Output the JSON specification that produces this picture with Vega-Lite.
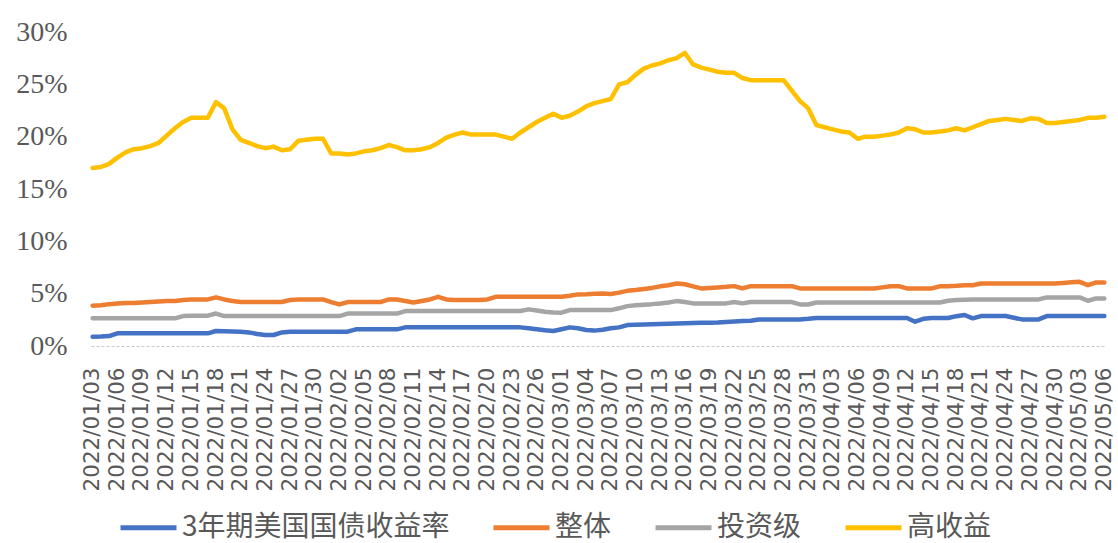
{
  "$schema": "https://vega.github.io/schema/vega-lite/v6.json",
  "width": 1015,
  "height": 314,
  "autosize": {"type": "none"},
  "padding": {"left": 91, "top": 32, "right": 12, "bottom": 197},
  "background": "white",
  "config": {"view": {"stroke": null}},
  "data": {"values": [
    {"date":"2022/01/03","3年期美国国债收益率":0.89,"整体":3.85,"投资级":2.64,"高收益":17.0},
    {"date":"2022/01/04","3年期美国国债收益率":0.90,"整体":3.90,"投资级":2.64,"高收益":17.1},
    {"date":"2022/01/05","3年期美国国债收益率":0.95,"整体":4.00,"投资级":2.64,"高收益":17.4},
    {"date":"2022/01/06","3年期美国国债收益率":1.21,"整体":4.05,"投资级":2.64,"高收益":18.0},
    {"date":"2022/01/07","3年期美国国债收益率":1.21,"整体":4.10,"投资级":2.64,"高收益":18.5},
    {"date":"2022/01/08","3年期美国国债收益率":1.21,"整体":4.10,"投资级":2.64,"高收益":18.8},
    {"date":"2022/01/09","3年期美国国债收益率":1.21,"整体":4.15,"投资级":2.64,"高收益":18.9},
    {"date":"2022/01/10","3年期美国国债收益率":1.21,"整体":4.20,"投资级":2.64,"高收益":19.1},
    {"date":"2022/01/11","3年期美国国债收益率":1.21,"整体":4.25,"投资级":2.64,"高收益":19.4},
    {"date":"2022/01/12","3年期美国国债收益率":1.21,"整体":4.30,"投资级":2.64,"高收益":20.1},
    {"date":"2022/01/13","3年期美国国债收益率":1.21,"整体":4.30,"投资级":2.64,"高收益":20.8},
    {"date":"2022/01/14","3年期美国国债收益率":1.21,"整体":4.40,"投资级":2.86,"高收益":21.4},
    {"date":"2022/01/15","3年期美国国债收益率":1.21,"整体":4.45,"投资级":2.90,"高收益":21.8},
    {"date":"2022/01/16","3年期美国国债收益率":1.21,"整体":4.45,"投资级":2.90,"高收益":21.8},
    {"date":"2022/01/17","3年期美国国债收益率":1.21,"整体":4.45,"投资级":2.90,"高收益":21.8},
    {"date":"2022/01/18","3年期美国国债收益率":1.43,"整体":4.65,"投资级":3.10,"高收益":23.3},
    {"date":"2022/01/19","3年期美国国债收益率":1.40,"整体":4.45,"投资级":2.86,"高收益":22.7},
    {"date":"2022/01/20","3年期美国国债收益率":1.38,"整体":4.30,"投资级":2.86,"高收益":20.7},
    {"date":"2022/01/21","3年期美国国债收益率":1.37,"整体":4.20,"投资级":2.86,"高收益":19.7},
    {"date":"2022/01/22","3年期美国国债收益率":1.30,"整体":4.20,"投资级":2.86,"高收益":19.4},
    {"date":"2022/01/23","3年期美国国债收益率":1.15,"整体":4.20,"投资级":2.86,"高收益":19.1},
    {"date":"2022/01/24","3年期美国国债收益率":1.05,"整体":4.20,"投资级":2.86,"高收益":18.9},
    {"date":"2022/01/25","3年期美国国债收益率":1.05,"整体":4.20,"投资级":2.86,"高收益":19.05},
    {"date":"2022/01/26","3年期美国国债收益率":1.30,"整体":4.20,"投资级":2.86,"高收益":18.7},
    {"date":"2022/01/27","3年期美国国债收益率":1.37,"整体":4.40,"投资级":2.86,"高收益":18.8},
    {"date":"2022/01/28","3年期美国国债收益率":1.37,"整体":4.45,"投资级":2.86,"高收益":19.6},
    {"date":"2022/01/29","3年期美国国债收益率":1.37,"整体":4.45,"投资级":2.86,"高收益":19.7},
    {"date":"2022/01/30","3年期美国国债收益率":1.37,"整体":4.45,"投资级":2.86,"高收益":19.8},
    {"date":"2022/01/31","3年期美国国债收益率":1.37,"整体":4.45,"投资级":2.86,"高收益":19.8},
    {"date":"2022/02/01","3年期美国国债收益率":1.37,"整体":4.20,"投资级":2.86,"高收益":18.4},
    {"date":"2022/02/02","3年期美国国债收益率":1.37,"整体":3.97,"投资级":2.86,"高收益":18.4},
    {"date":"2022/02/03","3年期美国国债收益率":1.37,"整体":4.20,"投资级":3.10,"高收益":18.3},
    {"date":"2022/02/04","3年期美国国债收益率":1.59,"整体":4.20,"投资级":3.10,"高收益":18.4},
    {"date":"2022/02/05","3年期美国国债收益率":1.59,"整体":4.20,"投资级":3.10,"高收益":18.6},
    {"date":"2022/02/06","3年期美国国债收益率":1.59,"整体":4.20,"投资级":3.10,"高收益":18.7},
    {"date":"2022/02/07","3年期美国国债收益率":1.59,"整体":4.20,"投资级":3.10,"高收益":18.9},
    {"date":"2022/02/08","3年期美国国债收益率":1.59,"整体":4.45,"投资级":3.10,"高收益":19.2},
    {"date":"2022/02/09","3年期美国国债收益率":1.59,"整体":4.45,"投资级":3.10,"高收益":19.0},
    {"date":"2022/02/10","3年期美国国债收益率":1.78,"整体":4.30,"投资级":3.34,"高收益":18.7},
    {"date":"2022/02/11","3年期美国国债收益率":1.78,"整体":4.16,"投资级":3.34,"高收益":18.7},
    {"date":"2022/02/12","3年期美国国债收益率":1.78,"整体":4.30,"投资级":3.34,"高收益":18.8},
    {"date":"2022/02/13","3年期美国国债收益率":1.78,"整体":4.45,"投资级":3.34,"高收益":19.0},
    {"date":"2022/02/14","3年期美国国债收益率":1.78,"整体":4.70,"投资级":3.34,"高收益":19.4},
    {"date":"2022/02/15","3年期美国国债收益率":1.78,"整体":4.45,"投资级":3.34,"高收益":19.9},
    {"date":"2022/02/16","3年期美国国债收益率":1.78,"整体":4.40,"投资级":3.34,"高收益":20.2},
    {"date":"2022/02/17","3年期美国国债收益率":1.78,"整体":4.40,"投资级":3.34,"高收益":20.4},
    {"date":"2022/02/18","3年期美国国债收益率":1.78,"整体":4.40,"投资级":3.34,"高收益":20.2},
    {"date":"2022/02/19","3年期美国国债收益率":1.78,"整体":4.40,"投资级":3.34,"高收益":20.2},
    {"date":"2022/02/20","3年期美国国债收益率":1.78,"整体":4.45,"投资级":3.34,"高收益":20.2},
    {"date":"2022/02/21","3年期美国国债收益率":1.78,"整体":4.70,"投资级":3.34,"高收益":20.2},
    {"date":"2022/02/22","3年期美国国债收益率":1.78,"整体":4.70,"投资级":3.34,"高收益":20.0},
    {"date":"2022/02/23","3年期美国国债收益率":1.78,"整体":4.70,"投资级":3.34,"高收益":19.8},
    {"date":"2022/02/24","3年期美国国债收益率":1.78,"整体":4.70,"投资级":3.34,"高收益":20.4},
    {"date":"2022/02/25","3年期美国国债收益率":1.70,"整体":4.70,"投资级":3.50,"高收益":20.9},
    {"date":"2022/02/26","3年期美国国债收益率":1.60,"整体":4.70,"投资级":3.40,"高收益":21.4},
    {"date":"2022/02/27","3年期美国国债收益率":1.50,"整体":4.70,"投资级":3.27,"高收益":21.8},
    {"date":"2022/02/28","3年期美国国债收益率":1.43,"整体":4.70,"投资级":3.20,"高收益":22.2},
    {"date":"2022/03/01","3年期美国国债收益率":1.60,"整体":4.70,"投资级":3.18,"高收益":21.8},
    {"date":"2022/03/02","3年期美国国债收益率":1.78,"整体":4.80,"投资级":3.43,"高收益":22.0},
    {"date":"2022/03/03","3年期美国国债收益率":1.70,"整体":4.93,"投资级":3.43,"高收益":22.4},
    {"date":"2022/03/04","3年期美国国债收益率":1.53,"整体":4.95,"投资级":3.43,"高收益":22.9},
    {"date":"2022/03/05","3年期美国国债收益率":1.47,"整体":5.00,"投资级":3.43,"高收益":23.2},
    {"date":"2022/03/06","3年期美国国债收益率":1.55,"整体":5.02,"投资级":3.43,"高收益":23.4},
    {"date":"2022/03/07","3年期美国国债收益率":1.70,"整体":4.96,"投资级":3.43,"高收益":23.6},
    {"date":"2022/03/08","3年期美国国债收益率":1.78,"整体":5.10,"投资级":3.60,"高收益":25.0},
    {"date":"2022/03/09","3年期美国国债收益率":2.00,"整体":5.27,"投资级":3.81,"高收益":25.2},
    {"date":"2022/03/10","3年期美国国债收益率":2.03,"整体":5.35,"投资级":3.90,"高收益":25.9},
    {"date":"2022/03/11","3年期美国国债收益率":2.05,"整体":5.45,"投资级":3.95,"高收益":26.5},
    {"date":"2022/03/12","3年期美国国债收益率":2.08,"整体":5.55,"投资级":4.00,"高收益":26.8},
    {"date":"2022/03/13","3年期美国国债收益率":2.10,"整体":5.70,"投资级":4.07,"高收益":27.0},
    {"date":"2022/03/14","3年期美国国债收益率":2.13,"整体":5.80,"投资级":4.15,"高收益":27.3},
    {"date":"2022/03/15","3年期美国国债收益率":2.16,"整体":5.97,"投资级":4.29,"高收益":27.5},
    {"date":"2022/03/16","3年期美国国债收益率":2.18,"整体":5.90,"投资级":4.20,"高收益":28.0},
    {"date":"2022/03/17","3年期美国国债收益率":2.20,"整体":5.70,"投资级":4.07,"高收益":26.9},
    {"date":"2022/03/18","3年期美国国债收益率":2.23,"整体":5.50,"投资级":4.07,"高收益":26.6},
    {"date":"2022/03/19","3年期美国国债收益率":2.23,"整体":5.55,"投资级":4.07,"高收益":26.4},
    {"date":"2022/03/20","3年期美国国债收益率":2.25,"整体":5.60,"投资级":4.07,"高收益":26.2},
    {"date":"2022/03/21","3年期美国国债收益率":2.30,"整体":5.65,"投资级":4.07,"高收益":26.1},
    {"date":"2022/03/22","3年期美国国债收益率":2.35,"整体":5.72,"投资级":4.20,"高收益":26.1},
    {"date":"2022/03/23","3年期美国国债收益率":2.38,"整体":5.50,"投资级":4.07,"高收益":25.6},
    {"date":"2022/03/24","3年期美国国债收益率":2.42,"整体":5.72,"投资级":4.20,"高收益":25.4},
    {"date":"2022/03/25","3年期美国国债收益率":2.54,"整体":5.72,"投资级":4.20,"高收益":25.4},
    {"date":"2022/03/26","3年期美国国债收益率":2.54,"整体":5.72,"投资级":4.20,"高收益":25.4},
    {"date":"2022/03/27","3年期美国国债收益率":2.54,"整体":5.72,"投资级":4.20,"高收益":25.4},
    {"date":"2022/03/28","3年期美国国债收益率":2.54,"整体":5.72,"投资级":4.20,"高收益":25.4},
    {"date":"2022/03/29","3年期美国国债收益率":2.54,"整体":5.72,"投资级":4.20,"高收益":24.4},
    {"date":"2022/03/30","3年期美国国债收益率":2.54,"整体":5.50,"投资级":3.97,"高收益":23.4},
    {"date":"2022/03/31","3年期美国国债收益率":2.60,"整体":5.50,"投资级":3.97,"高收益":22.7},
    {"date":"2022/04/01","3年期美国国债收益率":2.68,"整体":5.50,"投资级":4.16,"高收益":21.1},
    {"date":"2022/04/02","3年期美国国债收益率":2.68,"整体":5.50,"投资级":4.16,"高收益":20.9},
    {"date":"2022/04/03","3年期美国国债收益率":2.68,"整体":5.50,"投资级":4.16,"高收益":20.7},
    {"date":"2022/04/04","3年期美国国债收益率":2.68,"整体":5.50,"投资级":4.16,"高收益":20.5},
    {"date":"2022/04/05","3年期美国国债收益率":2.68,"整体":5.50,"投资级":4.16,"高收益":20.4},
    {"date":"2022/04/06","3年期美国国债收益率":2.68,"整体":5.50,"投资级":4.16,"高收益":19.8},
    {"date":"2022/04/07","3年期美国国债收益率":2.68,"整体":5.50,"投资级":4.16,"高收益":20.0},
    {"date":"2022/04/08","3年期美国国债收益率":2.68,"整体":5.50,"投资级":4.16,"高收益":20.0},
    {"date":"2022/04/09","3年期美国国债收益率":2.68,"整体":5.60,"投资级":4.16,"高收益":20.1},
    {"date":"2022/04/10","3年期美国国债收益率":2.68,"整体":5.70,"投资级":4.16,"高收益":20.2},
    {"date":"2022/04/11","3年期美国国债收益率":2.68,"整体":5.72,"投资级":4.16,"高收益":20.4},
    {"date":"2022/04/12","3年期美国国债收益率":2.68,"整体":5.50,"投资级":4.16,"高收益":20.8},
    {"date":"2022/04/13","3年期美国国债收益率":2.32,"整体":5.50,"投资级":4.16,"高收益":20.7},
    {"date":"2022/04/14","3年期美国国债收益率":2.60,"整体":5.50,"投资级":4.16,"高收益":20.4},
    {"date":"2022/04/15","3年期美国国债收益率":2.68,"整体":5.50,"投资级":4.16,"高收益":20.4},
    {"date":"2022/04/16","3年期美国国债收益率":2.68,"整体":5.70,"投资级":4.16,"高收益":20.5},
    {"date":"2022/04/17","3年期美国国债收益率":2.68,"整体":5.72,"投资级":4.32,"高收益":20.6},
    {"date":"2022/04/18","3年期美国国债收益率":2.85,"整体":5.75,"投资级":4.40,"高收益":20.8},
    {"date":"2022/04/19","3年期美国国债收益率":2.96,"整体":5.80,"投资级":4.43,"高收益":20.6},
    {"date":"2022/04/20","3年期美国国债收益率":2.64,"整体":5.81,"投资级":4.45,"高收益":20.9},
    {"date":"2022/04/21","3年期美国国债收益率":2.86,"整体":5.97,"投资级":4.45,"高收益":21.2},
    {"date":"2022/04/22","3年期美国国债收益率":2.86,"整体":5.97,"投资级":4.45,"高收益":21.5},
    {"date":"2022/04/23","3年期美国国债收益率":2.86,"整体":5.97,"投资级":4.45,"高收益":21.6},
    {"date":"2022/04/24","3年期美国国债收益率":2.86,"整体":5.97,"投资级":4.45,"高收益":21.7},
    {"date":"2022/04/25","3年期美国国债收益率":2.70,"整体":5.97,"投资级":4.45,"高收益":21.6},
    {"date":"2022/04/26","3年期美国国债收益率":2.54,"整体":5.97,"投资级":4.45,"高收益":21.5},
    {"date":"2022/04/27","3年期美国国债收益率":2.54,"整体":5.97,"投资级":4.45,"高收益":21.75},
    {"date":"2022/04/28","3年期美国国债收益率":2.54,"整体":5.97,"投资级":4.45,"高收益":21.7},
    {"date":"2022/04/29","3年期美国国债收益率":2.86,"整体":5.97,"投资级":4.64,"高收益":21.3},
    {"date":"2022/04/30","3年期美国国债收益率":2.86,"整体":5.97,"投资级":4.64,"高收益":21.3},
    {"date":"2022/05/01","3年期美国国债收益率":2.86,"整体":6.03,"投资级":4.64,"高收益":21.4},
    {"date":"2022/05/02","3年期美国国债收益率":2.86,"整体":6.10,"投资级":4.64,"高收益":21.5},
    {"date":"2022/05/03","3年期美国国债收益率":2.86,"整体":6.13,"投资级":4.64,"高收益":21.6},
    {"date":"2022/05/04","3年期美国国债收益率":2.86,"整体":5.81,"投资级":4.32,"高收益":21.8},
    {"date":"2022/05/05","3年期美国国债收益率":2.86,"整体":6.07,"投资级":4.55,"高收益":21.8},
    {"date":"2022/05/06","3年期美国国债收益率":2.86,"整体":6.07,"投资级":4.55,"高收益":21.9}
  ]},
  "transform": [
    {"fold": ["3年期美国国债收益率", "整体", "投资级", "高收益"], "as": ["系列", "收益率"]}
  ],
  "mark": {"type": "line", "strokeWidth": 4.5, "strokeJoin": "round", "strokeCap": "round"},
  "encoding": {
    "x": {
      "field": "date", "type": "ordinal", "sort": "ascending",
      "scale": {"type": "point", "padding": 0.2},
      "axis": {
        "title": null,
        "values": ["2022/01/03","2022/01/06","2022/01/09","2022/01/12","2022/01/15","2022/01/18","2022/01/21","2022/01/24","2022/01/27","2022/01/30","2022/02/02","2022/02/05","2022/02/08","2022/02/11","2022/02/14","2022/02/17","2022/02/20","2022/02/23","2022/02/26","2022/03/01","2022/03/04","2022/03/07","2022/03/10","2022/03/13","2022/03/16","2022/03/19","2022/03/22","2022/03/25","2022/03/28","2022/03/31","2022/04/03","2022/04/06","2022/04/09","2022/04/12","2022/04/15","2022/04/18","2022/04/21","2022/04/24","2022/04/27","2022/04/30","2022/05/03","2022/05/06"],
        "labelAngle": -90,
        "labelFont": "DejaVu Sans",
        "labelFontSize": 21.5,
        "labelColor": "#595959",
        "labelOverlap": false,
        "labelPadding": 21,
        "ticks": false,
        "domainColor": "#c8c8c8",
        "domainDash": [3, 2],
        "domainWidth": 1,
        "grid": false
      }
    },
    "y": {
      "field": "收益率", "type": "quantitative",
      "scale": {"domain": [0, 30], "nice": false, "zero": true},
      "axis": {
        "title": null,
        "values": [0, 5, 10, 15, 20, 25, 30],
        "labelExpr": "datum.value + '%'",
        "grid": false,
        "domain": false,
        "ticks": false,
        "labelFont": "Liberation Serif",
        "labelFontSize": 28,
        "labelColor": "#595959",
        "labelPadding": 24
      }
    },
    "color": {
      "field": "系列", "type": "nominal",
      "scale": {
        "domain": ["3年期美国国债收益率", "整体", "投资级", "高收益"],
        "range": ["#4472C4", "#ED7D31", "#A5A5A5", "#FFC000"]
      },
      "legend": {
        "orient": "none",
        "legendX": 27,
        "legendY": 465,
        "direction": "horizontal",
        "title": null,
        "symbolType": "stroke",
        "symbolSize": 3136,
        "symbolStrokeWidth": 5,
        "labelFont": "Noto Sans CJK SC",
        "labelFontSize": 28,
        "labelColor": "#595959",
        "labelLimit": 400,
        "labelOffset": 3,
        "columnPadding": 33,
        "padding": 0
      }
    }
  }
}
